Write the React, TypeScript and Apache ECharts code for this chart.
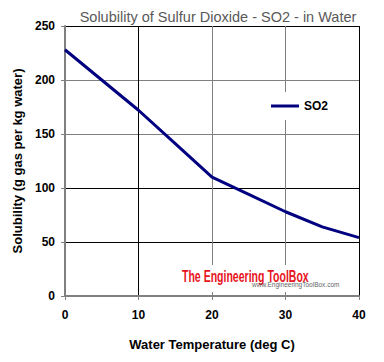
import React, { useEffect, useRef } from "react";
import * as echarts from "echarts";

const temperatures = [0, 5, 10, 15, 20, 25, 30, 35, 40];
const solubility = [228, 200, 172, 141, 110, 94, 78, 64, 54];
const seriesName = "SO2";
const titleText = "Solubility of Sulfur Dioxide - SO2 - in Water";
const xAxisName = "Water Temperature (deg C)";
const yAxisName = "Solubility (g gas per kg water)";
const ySplitColors = ["#808080", "#000000", "#000000", "#808080", "#808080", "#000000"];
const xSplitColors = ["#808080", "#000000", "#808080", "#808080", "#000000"];

const FONT = "'Liberation Sans', Arial, sans-serif";

export default function App() {
  const ref = useRef<HTMLDivElement>(null);
  useEffect(() => {
    if (!ref.current) return;
    const chart = echarts.init(ref.current, null, { renderer: "svg" });
    chart.setOption({
      animation: false,
      backgroundColor: "#ffffff",
      textStyle: { fontFamily: FONT },
      title: {
        text: titleText,
        left: 213,
        textAlign: "center",
        top: 4,
        textStyle: { fontFamily: FONT, fontSize: 14.5, fontWeight: "normal", color: "#595959" },
      },
      grid: { left: 65, right: 25, top: 26, bottom: 66, containLabel: false },
      legend: {
        left: 265,
        top: 92,
        padding: [8, 8, 8, 6],
        backgroundColor: "#ffffff",
        icon: "rect",
        itemWidth: 28,
        itemHeight: 3,
        itemGap: 4,
        textStyle: { fontFamily: FONT, fontSize: 12, fontWeight: "bold", color: "#000" },
        data: [seriesName],
      },
      xAxis: {
        type: "value",
        min: 0,
        max: 40,
        interval: 10,
        name: xAxisName,
        nameLocation: "middle",
        nameGap: 42,
        nameTextStyle: { fontFamily: FONT, fontSize: 13, fontWeight: "bold", color: "#000" },
        axisLine: { show: true, lineStyle: { color: "#808080", width: 2 } },
        axisTick: { show: true, length: 4, lineStyle: { color: "#808080", width: 1 } },
        axisLabel: { margin: 13, fontFamily: FONT, fontSize: 12, fontWeight: "bold", color: "#000" },
        splitLine: { show: true, lineStyle: { color: xSplitColors, width: 1 } },
      },
      yAxis: {
        type: "value",
        min: 0,
        max: 250,
        interval: 50,
        name: yAxisName,
        nameLocation: "middle",
        nameGap: 37,
        nameTextStyle: { fontFamily: FONT, fontSize: 13, fontWeight: "bold", color: "#000" },
        axisLine: { show: true, lineStyle: { color: "#808080", width: 2 } },
        axisTick: { show: true, length: 4, lineStyle: { color: "#808080", width: 1 } },
        axisLabel: { margin: 10, fontFamily: FONT, fontSize: 12, fontWeight: "bold", color: "#000" },
        splitLine: { show: true, lineStyle: { color: ySplitColors, width: 1 } },
      },
      graphic: [
        {
          type: "rect",
          left: 179,
          top: 265,
          shape: { width: 162, height: 27 },
          style: { fill: "#ffffff" },
          z: 3,
        },
        {
          type: "text",
          x: 182,
          y: 267,
          scaleX: 0.62,
          style: {
            text: "The Engineering ToolBox",
            fontFamily: FONT,
            fontSize: 17,
            fontWeight: "bold",
            fill: "#e8141c",
          },
          z: 4,
        },
        {
          type: "text",
          x: 252,
          y: 281,
          style: {
            text: "www.EngineeringToolBox.com",
            fontFamily: FONT,
            fontSize: 6.5,
            fill: "#666666",
          },
          z: 4,
        },
      ],
      series: [
        {
          name: seriesName,
          type: "line",
          data: temperatures.map((t, i) => [t, solubility[i]]),
          symbol: "none",
          lineStyle: { color: "#000080", width: 3 },
          itemStyle: { color: "#000080" },
          z: 2,
        },
      ],
    });
    return () => chart.dispose();
  }, []);
  return (
    <div
      ref={ref}
      style={{ position: "fixed", left: 0, top: 0, width: 384, height: 362, background: "#fff" }}
    />
  );
}
